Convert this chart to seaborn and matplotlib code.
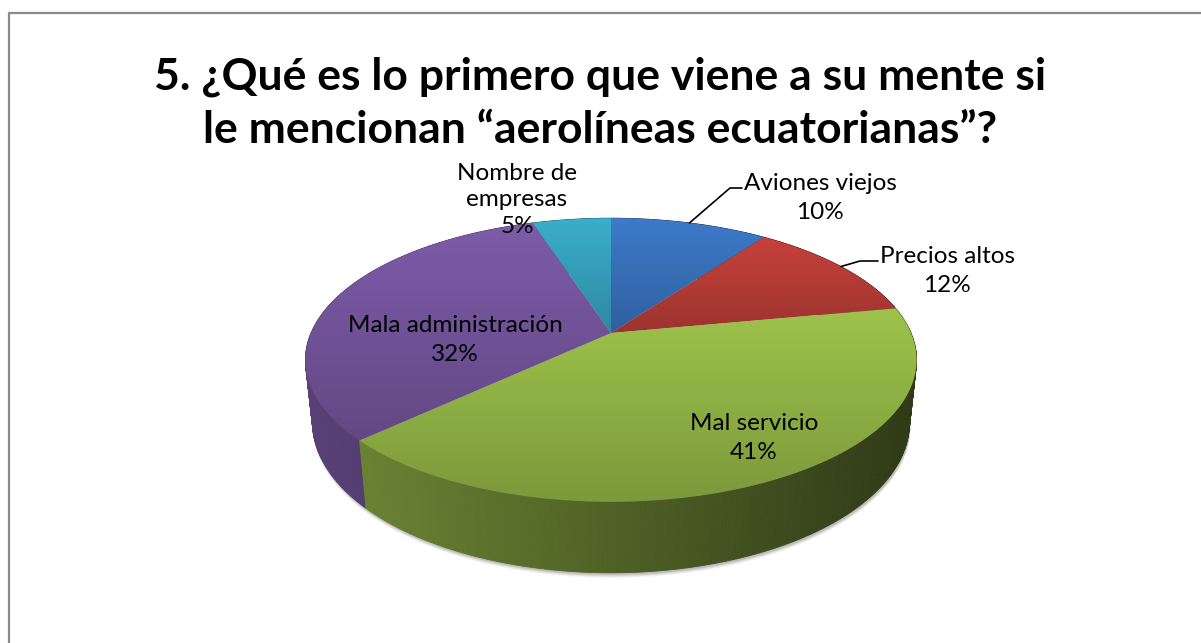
import numpy as np
import seaborn as sns
from matplotlib import pyplot as plt
from matplotlib.patches import Polygon
from matplotlib.colors import to_rgb

# Data
categories = ["Aviones viejos", "Precios altos", "Mal servicio",
              "Mala administración", "Nombre de\nempresas"]
values = [10, 12, 41, 32, 5]
pct_labels = ["10%", "12%", "41%", "32%", "5%"]
top_colors = ["#3c78c6", "#c3403a", "#9bbf4a", "#7b5aa5", "#39abc9"]
title = "5. ¿Qué es lo primero que viene a su mente si\nle mencionan “aerolíneas ecuatorianas”?"

sns.set_theme(style="white")
plt.rcParams['font.family'] = ['Lato', 'DejaVu Sans']
plt.rcParams['text.color'] = 'black'

# 3D pie geometry (pixels)
CX, CY, S = 611, 333, 300
ELEV = np.radians(27.1)
DIST = 4.68
H = 0.236


def proj(theta, r=1.0, z=0.0):
    # theta clockwise from 12 o'clock
    u = r * np.sin(theta)
    v = r * np.cos(theta)
    yc = v * np.sin(ELEV) + z * np.cos(ELEV)
    d = DIST + v * np.cos(ELEV) - z * np.sin(ELEV)
    return CX + S * u * DIST / d, CY - S * yc * DIST / d


def depth(theta):
    return DIST + np.cos(theta) * np.cos(ELEV)


fig = plt.figure(figsize=(12.01, 6.43), dpi=100)
ax = fig.add_axes([0, 0, 1, 1])
ax.set_xlim(0, 1201)
ax.set_ylim(643, 0)
ax.axis('off')

# frame
ax.plot([9, 9, 1201], [643, 12.5, 12.5], color='#8a8a8a', lw=1.6, zorder=1)

fracs = np.array(values) / np.sum(values)
bounds = np.concatenate([[0], np.cumsum(fracs)]) * 2 * np.pi

# soft shadow under the bottom rim
tt = np.linspace(0, 2 * np.pi, 400)
bx, by = proj(tt, 1.0, -H)
for k, a in zip([5, 4, 3, 2], [0.08, 0.1, 0.14, 0.18]):
    ax.add_patch(Polygon(np.c_[bx + 1, by + k], closed=True, fc='#606060',
                         ec='none', alpha=a, zorder=2))

# side walls, back to front
quads = []
for i in range(len(values)):
    ts = np.linspace(bounds[i], bounds[i + 1], max(4, int(values[i] * 6)))
    for a0, a1 in zip(ts[:-1], ts[1:]):
        x0, y0 = proj(a0)
        x1, y1 = proj(a1)
        x2, y2 = proj(a1, 1.0, -H)
        x3, y3 = proj(a0, 1.0, -H)
        quads.append((depth((a0 + a1) / 2), i, [(x0, y0), (x1, y1), (x2, y2), (x3, y3)]))
quads.sort(key=lambda q: -q[0])
for dd, i, pts in quads:
    xm = np.mean([p[0] for p in pts])
    t = np.clip((xm - 307) / 610, 0, 1)
    f = 0.72 - 0.42 * t
    col = tuple(np.clip(np.array(to_rgb(top_colors[i])) * f, 0, 1))
    ax.add_patch(Polygon(pts, closed=True, fc=col, ec=col, lw=0.6, zorder=3))

# top faces with vertical gradient
for i in range(len(values)):
    ts = np.linspace(bounds[i], bounds[i + 1], 200)
    ex, ey = proj(ts)
    px = np.concatenate([[CX], ex])
    py = np.concatenate([[CY], ey])
    poly = Polygon(np.c_[px, py], closed=True, fc='none', ec='none', zorder=4)
    ax.add_patch(poly)
    base = np.array(to_rgb(top_colors[i]))
    g = np.linspace(1.02, 0.8, 64)[:, None, None] * base[None, None, :]
    g = np.clip(np.repeat(g, 2, axis=1), 0, 1)
    im = ax.imshow(g, extent=(px.min() - 1, px.max() + 1, py.max() + 1, py.min() - 1),
                   origin='upper', aspect='auto', interpolation='bilinear', zorder=4)
    im.set_clip_path(poly)
ax.set_xlim(0, 1201)
ax.set_ylim(643, 0)

# title
ax.text(600, 103, title, ha='center', va='center', fontsize=32, fontweight='bold',
        color='black', linespacing=1.39, zorder=6)

# labels
lab_fs = 17.5
mid = (bounds[:-1] + bounds[1:]) / 2
# Aviones viejos
sx, sy = proj(mid[0])
ax.plot([sx, 730, 742], [sy, 188, 188], color='black', lw=1.2, zorder=6)
ax.text(820, 198, categories[0] + "\n" + pct_labels[0], ha='center', va='center',
        fontsize=lab_fs, linespacing=1.5, color='black', zorder=6)
# Precios altos
sx, sy = proj(mid[1])
ax.plot([sx, 860, 878], [sy, 261, 261], color='black', lw=1.2, zorder=6)
ax.text(947, 271, categories[1] + "\n" + pct_labels[1], ha='center', va='center',
        fontsize=lab_fs, linespacing=1.5, color='black', zorder=6)
# Mal servicio
ax.text(754, 438, categories[2] + "\n" + pct_labels[2], ha='center', va='center',
        fontsize=lab_fs, linespacing=1.5, color='black', zorder=6)
# Mala administración
ax.text(455, 340, categories[3] + "\n" + pct_labels[3], ha='center', va='center',
        fontsize=lab_fs, linespacing=1.5, color='black', zorder=6)
# Nombre de empresas
ax.text(517, 200, categories[4] + "\n" + pct_labels[4], ha='center', va='center',
        fontsize=lab_fs, linespacing=1.35, color='black', zorder=6)

fig.savefig('out.png', dpi=100)
